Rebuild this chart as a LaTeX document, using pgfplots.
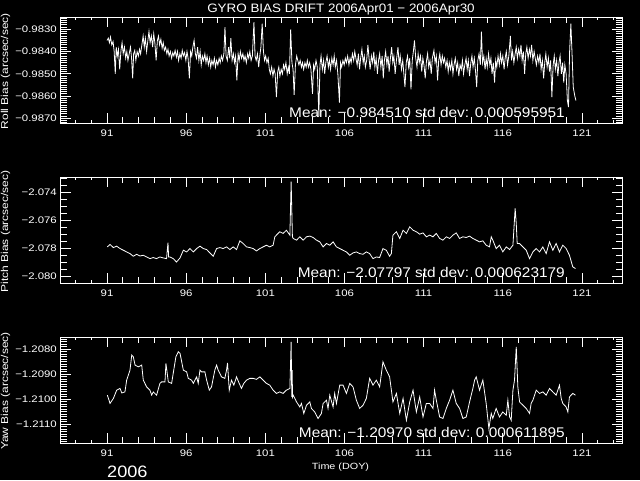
\documentclass[border=0pt]{standalone}
\usepackage{pgfplots}
\pgfplotsset{compat=1.18}
\usepackage{fontspec}
\setmainfont{Liberation Sans}
\newfontfamily\hfont{Liberation Sans}[FakeStretch=1.2]
\newfontfamily\mfont{Liberation Sans}[FakeStretch=1.1]

\pgfplotsset{idl/.style={
  scale only axis, width=561.5pt, height=106pt,
  xmin=88.06, xmax=123.53,
  axis line style={draw=white, line width=0.8pt},
  tick align=inside, tick pos=both,
  xtick={91,96,101,106,111,116,121},
  minor x tick num=4,
  major tick length=10pt, minor tick length=6pt,
  every tick/.style={draw=white, line width=0.8pt},
  tick label style={white, font=\hfont\fontsize{9.5}{10}\selectfont, inner sep=0pt},
  /pgf/number format/assume math mode=true,
  xticklabel shift=7pt,
  yticklabel shift=3.5pt,
  axis on top,
  anchor=south west,
}}

\begin{document}
\begin{tikzpicture}
\fill[black] (0pt,0pt) rectangle (640pt,480pt);

% ---------------- Roll ----------------
\begin{axis}[idl, at={(60.5pt,357pt)},
  ymin=-0.987211, ymax=-0.982447,
  ytick={-0.9870,-0.9860,-0.9850,-0.9840,-0.9830},
  yticklabels={−0.9870,−0.9860,−0.9850,−0.9840,−0.9830},
  minor y tick num=9]
\addplot[white, line width=0.8pt, mark=none] coordinates {
(91.00,-0.98350)(91.08,-0.98340)(91.15,-0.98360)(91.22,-0.98335)(91.30,-0.98370)(91.38,-0.98355)(91.45,-0.98400)(91.52,-0.98500)(91.58,-0.98380)(91.65,-0.98420)
(91.72,-0.98390)(91.80,-0.98480)(91.88,-0.98395)(91.95,-0.98360)(92.02,-0.98410)(92.10,-0.98380)(92.18,-0.98430)(92.25,-0.98400)(92.32,-0.98440)(92.40,-0.98410)
(92.48,-0.98380)(92.55,-0.98430)(92.62,-0.98520)(92.68,-0.98410)(92.75,-0.98395)(92.82,-0.98440)(92.90,-0.98400)(92.98,-0.98420)(93.05,-0.98390)(93.12,-0.98410)
(93.20,-0.98370)(93.28,-0.98330)(93.35,-0.98380)(93.42,-0.98340)(93.50,-0.98400)(93.58,-0.98350)(93.65,-0.98310)(93.72,-0.98360)(93.80,-0.98330)(93.88,-0.98380)
(93.95,-0.98320)(94.02,-0.98360)(94.10,-0.98440)(94.18,-0.98350)(94.25,-0.98330)(94.32,-0.98370)(94.40,-0.98345)(94.48,-0.98385)(94.55,-0.98360)(94.62,-0.98395)
(94.70,-0.98380)(94.78,-0.98410)(94.85,-0.98390)(94.92,-0.98420)(95.00,-0.98400)(95.08,-0.98430)(95.15,-0.98405)(95.22,-0.98420)(95.30,-0.98395)(95.38,-0.98425)
(95.45,-0.98400)(95.52,-0.98440)(95.60,-0.98410)(95.68,-0.98430)(95.75,-0.98395)(95.82,-0.98420)(95.90,-0.98405)(95.98,-0.98440)(96.05,-0.98400)(96.12,-0.98430)
(96.20,-0.98520)(96.28,-0.98400)(96.35,-0.98420)(96.42,-0.98380)(96.50,-0.98350)(96.58,-0.98410)(96.65,-0.98430)(96.72,-0.98380)(96.80,-0.98440)(96.88,-0.98400)
(96.95,-0.98460)(97.02,-0.98420)(97.10,-0.98440)(97.18,-0.98410)(97.25,-0.98450)(97.32,-0.98420)(97.40,-0.98460)(97.48,-0.98430)(97.55,-0.98470)(97.62,-0.98440)
(97.70,-0.98460)(97.78,-0.98430)(97.85,-0.98470)(97.92,-0.98440)(98.00,-0.98460)(98.08,-0.98430)(98.15,-0.98450)(98.22,-0.98420)(98.30,-0.98440)(98.38,-0.98410)
(98.45,-0.98290)(98.52,-0.98420)(98.60,-0.98440)(98.68,-0.98380)(98.75,-0.98430)(98.82,-0.98340)(98.90,-0.98440)(98.98,-0.98410)(99.05,-0.98450)(99.12,-0.98420)
(99.20,-0.98530)(99.28,-0.98410)(99.35,-0.98440)(99.42,-0.98400)(99.50,-0.98430)(99.58,-0.98410)(99.65,-0.98440)(99.72,-0.98420)(99.80,-0.98450)(99.88,-0.98410)
(99.95,-0.98430)(100.02,-0.98400)(100.10,-0.98440)(100.18,-0.98420)(100.28,-0.98268)(100.35,-0.98420)(100.42,-0.98440)(100.50,-0.98410)(100.58,-0.98470)(100.65,-0.98420)
(100.72,-0.98380)(100.80,-0.98275)(100.88,-0.98400)(100.95,-0.98440)(101.02,-0.98420)(101.10,-0.98450)(101.18,-0.98430)(101.25,-0.98480)(101.32,-0.98500)(101.40,-0.98470)
(101.48,-0.98510)(101.55,-0.98480)(101.62,-0.98500)(101.70,-0.98605)(101.78,-0.98490)(101.85,-0.98470)(101.92,-0.98510)(102.00,-0.98480)(102.08,-0.98500)(102.15,-0.98460)
(102.22,-0.98480)(102.30,-0.98450)(102.38,-0.98500)(102.45,-0.98470)(102.52,-0.98500)(102.60,-0.98300)(102.68,-0.98450)(102.75,-0.98480)(102.82,-0.98595)(102.90,-0.98460)
(102.98,-0.98420)(103.05,-0.98440)(103.12,-0.98460)(103.20,-0.98440)(103.28,-0.98470)(103.35,-0.98450)(103.42,-0.98480)(103.50,-0.98450)(103.58,-0.98470)(103.65,-0.98440)
(103.72,-0.98470)(103.80,-0.98450)(103.88,-0.98480)(103.98,-0.98590)(104.05,-0.98460)(104.12,-0.98480)(104.20,-0.98440)(104.28,-0.98470)(104.38,-0.98690)(104.45,-0.98460)
(104.52,-0.98420)(104.60,-0.98480)(104.68,-0.98440)(104.75,-0.98500)(104.82,-0.98450)(104.90,-0.98420)(104.98,-0.98470)(105.05,-0.98440)(105.12,-0.98480)(105.20,-0.98430)
(105.28,-0.98460)(105.35,-0.98420)(105.42,-0.98470)(105.50,-0.98440)(105.58,-0.98500)(105.68,-0.98630)(105.75,-0.98450)(105.82,-0.98470)(105.90,-0.98440)(105.98,-0.98460)
(106.05,-0.98430)(106.12,-0.98450)(106.20,-0.98420)(106.28,-0.98460)(106.35,-0.98430)(106.42,-0.98450)(106.50,-0.98410)(106.58,-0.98440)(106.65,-0.98400)(106.72,-0.98430)
(106.80,-0.98460)(106.88,-0.98410)(106.95,-0.98480)(107.02,-0.98430)(107.10,-0.98390)(107.18,-0.98450)(107.25,-0.98420)(107.32,-0.98470)(107.40,-0.98440)(107.48,-0.98370)
(107.55,-0.98430)(107.62,-0.98480)(107.70,-0.98420)(107.78,-0.98450)(107.85,-0.98400)(107.92,-0.98470)(108.00,-0.98430)(108.08,-0.98500)(108.15,-0.98440)(108.22,-0.98410)
(108.30,-0.98470)(108.38,-0.98420)(108.45,-0.98520)(108.52,-0.98440)(108.60,-0.98400)(108.68,-0.98460)(108.75,-0.98420)(108.82,-0.98490)(108.90,-0.98430)(108.98,-0.98380)
(109.05,-0.98450)(109.12,-0.98420)(109.20,-0.98500)(109.28,-0.98440)(109.38,-0.98380)(109.45,-0.98460)(109.52,-0.98420)(109.60,-0.98480)(109.68,-0.98440)(109.75,-0.98500)
(109.82,-0.98560)(109.90,-0.98450)(109.98,-0.98420)(110.05,-0.98470)(110.12,-0.98430)(110.20,-0.98570)(110.28,-0.98440)(110.35,-0.98400)(110.42,-0.98350)(110.50,-0.98430)
(110.58,-0.98470)(110.65,-0.98410)(110.72,-0.98450)(110.80,-0.98420)(110.88,-0.98490)(110.95,-0.98430)(111.02,-0.98460)(111.10,-0.98520)(111.18,-0.98440)(111.25,-0.98410)
(111.32,-0.98470)(111.40,-0.98440)(111.48,-0.98500)(111.55,-0.98430)(111.65,-0.98395)(111.72,-0.98450)(111.80,-0.98420)(111.88,-0.98530)(111.95,-0.98440)(112.02,-0.98410)
(112.10,-0.98460)(112.18,-0.98420)(112.25,-0.98450)(112.32,-0.98430)(112.40,-0.98470)(112.48,-0.98440)(112.55,-0.98490)(112.62,-0.98450)(112.70,-0.98480)(112.78,-0.98440)
(112.85,-0.98500)(112.92,-0.98460)(113.00,-0.98430)(113.08,-0.98480)(113.15,-0.98450)(113.22,-0.98510)(113.30,-0.98460)(113.38,-0.98480)(113.45,-0.98440)(113.52,-0.98500)
(113.60,-0.98460)(113.68,-0.98430)(113.75,-0.98480)(113.82,-0.98440)(113.90,-0.98510)(113.98,-0.98450)(114.05,-0.98420)(114.12,-0.98470)(114.20,-0.98430)(114.28,-0.98490)
(114.35,-0.98560)(114.42,-0.98440)(114.50,-0.98410)(114.58,-0.98460)(114.65,-0.98310)(114.72,-0.98450)(114.80,-0.98420)(114.88,-0.98480)(114.95,-0.98430)(115.02,-0.98470)
(115.10,-0.98410)(115.18,-0.98460)(115.25,-0.98430)(115.32,-0.98500)(115.40,-0.98450)(115.48,-0.98540)(115.55,-0.98440)(115.62,-0.98470)(115.70,-0.98420)(115.78,-0.98460)
(115.85,-0.98410)(115.92,-0.98450)(116.00,-0.98420)(116.08,-0.98480)(116.15,-0.98430)(116.22,-0.98400)(116.30,-0.98460)(116.38,-0.98420)(116.48,-0.98330)(116.55,-0.98440)
(116.62,-0.98400)(116.70,-0.98450)(116.78,-0.98410)(116.85,-0.98380)(116.92,-0.98430)(117.00,-0.98390)(117.08,-0.98420)(117.15,-0.98370)(117.22,-0.98440)(117.30,-0.98400)
(117.38,-0.98500)(117.45,-0.98410)(117.52,-0.98380)(117.60,-0.98430)(117.68,-0.98390)(117.75,-0.98420)(117.82,-0.98370)(117.90,-0.98440)(117.98,-0.98400)(118.05,-0.98430)
(118.12,-0.98460)(118.20,-0.98420)(118.28,-0.98450)(118.35,-0.98410)(118.42,-0.98480)(118.50,-0.98440)(118.58,-0.98520)(118.65,-0.98450)(118.72,-0.98410)(118.80,-0.98470)
(118.88,-0.98430)(118.95,-0.98490)(119.02,-0.98440)(119.10,-0.98605)(119.18,-0.98460)(119.25,-0.98420)(119.32,-0.98480)(119.40,-0.98440)(119.48,-0.98510)(119.55,-0.98450)
(119.62,-0.98420)(119.70,-0.98500)(119.78,-0.98450)(119.85,-0.98540)(119.92,-0.98460)(120.00,-0.98500)(120.08,-0.98620)(120.15,-0.98650)(120.22,-0.98400)(120.30,-0.98275)
(120.38,-0.98420)(120.45,-0.98560)(120.55,-0.98600)(120.62,-0.98620)
};
\end{axis}

% ---------------- Pitch ----------------
\begin{axis}[idl, at={(60.5pt,197pt)},
  ymin=-2.080502, ymax=-2.072925,
  ytick={-2.080,-2.078,-2.076,-2.074},
  yticklabels={−2.080,−2.078,−2.076,−2.074},
  minor y tick num=3]
\addplot[white, line width=0.8pt, mark=none] coordinates {
(91.02,-2.07792)(91.19,-2.07775)(91.40,-2.07797)(91.61,-2.07787)(91.82,-2.07804)(92.03,-2.07816)(92.24,-2.07828)(92.45,-2.07840)(92.66,-2.07859)(92.87,-2.07845)
(93.08,-2.07857)(93.29,-2.07852)(93.50,-2.07864)(93.71,-2.07876)(93.92,-2.07868)(94.13,-2.07876)(94.34,-2.07864)(94.55,-2.07871)(94.76,-2.07876)(94.85,-2.07761)
(94.89,-2.07864)(94.97,-2.07864)(95.18,-2.07876)(95.39,-2.07900)(95.61,-2.07871)(95.82,-2.07816)(96.03,-2.07828)(96.24,-2.07804)(96.45,-2.07828)(96.66,-2.07804)
(96.87,-2.07787)(97.08,-2.07804)(97.29,-2.07811)(97.50,-2.07835)(97.71,-2.07859)(97.92,-2.07804)(98.13,-2.07797)(98.34,-2.07804)(98.55,-2.07792)(98.76,-2.07811)
(98.97,-2.07792)(99.18,-2.07811)(99.39,-2.07749)(99.60,-2.07768)(99.81,-2.07792)(100.02,-2.07797)(100.23,-2.07804)(100.44,-2.07821)(100.65,-2.07804)(100.86,-2.07792)
(101.07,-2.07780)(101.28,-2.07792)(101.49,-2.07780)(101.60,-2.07720)(101.70,-2.07708)(101.91,-2.07684)(102.12,-2.07696)(102.33,-2.07673)(102.55,-2.07708)(102.63,-2.07326)
(102.67,-2.07529)(102.71,-2.07720)(102.76,-2.07732)(102.97,-2.07744)(103.18,-2.07720)(103.39,-2.07744)(103.60,-2.07720)(103.81,-2.07715)(104.02,-2.07725)(104.23,-2.07744)
(104.44,-2.07756)(104.65,-2.07792)(104.86,-2.07768)(105.07,-2.07780)(105.28,-2.07756)(105.49,-2.07792)(105.70,-2.07804)(105.91,-2.07816)(106.12,-2.07828)(106.33,-2.07852)
(106.54,-2.07835)(106.75,-2.07828)(106.96,-2.07840)(107.17,-2.07845)(107.38,-2.07828)(107.59,-2.07840)(107.80,-2.07876)(108.01,-2.07864)(108.22,-2.07868)(108.43,-2.07804)
(108.64,-2.07816)(108.85,-2.07859)(108.96,-2.07840)(109.06,-2.07708)(109.28,-2.07684)(109.49,-2.07732)(109.70,-2.07673)(109.91,-2.07696)(110.12,-2.07649)(110.33,-2.07673)
(110.54,-2.07684)(110.75,-2.07701)(110.96,-2.07692)(111.17,-2.07720)(111.38,-2.07708)(111.59,-2.07720)(111.80,-2.07696)(112.01,-2.07732)(112.22,-2.07744)(112.43,-2.07720)
(112.64,-2.07732)(112.85,-2.07708)(113.06,-2.07692)(113.27,-2.07732)(113.48,-2.07720)(113.69,-2.07725)(113.90,-2.07715)(114.11,-2.07732)(114.32,-2.07744)(114.53,-2.07756)
(114.74,-2.07749)(114.95,-2.07780)(115.16,-2.07792)(115.27,-2.07720)(115.37,-2.07744)(115.58,-2.07804)(115.79,-2.07780)(116.00,-2.07828)(116.22,-2.07792)(116.43,-2.07811)
(116.64,-2.07780)(116.78,-2.07517)(116.85,-2.07625)(116.91,-2.07768)(117.06,-2.07768)(117.27,-2.07792)(117.48,-2.07816)(117.69,-2.07876)(117.90,-2.07828)(118.11,-2.07804)
(118.32,-2.07828)(118.53,-2.07792)(118.74,-2.07840)(118.95,-2.07756)(119.16,-2.07816)(119.37,-2.07768)(119.58,-2.07828)(119.79,-2.07780)(120.00,-2.07804)(120.21,-2.07852)
(120.42,-2.07935)(120.59,-2.07947)
};
\end{axis}

% ---------------- Yaw ----------------
\begin{axis}[idl, at={(60.5pt,37pt)},
  ymin=-1.211748, ymax=-1.20752,
  ytick={-1.2110,-1.2100,-1.2090,-1.2080},
  yticklabels={−1.2110,−1.2100,−1.2090,−1.2080},
  minor y tick num=9]
\addplot[white, line width=0.8pt, mark=none] coordinates {
(91.02,-1.20984)(91.19,-1.21017)(91.40,-1.20997)(91.61,-1.20964)(91.82,-1.20957)(91.93,-1.20975)(92.13,-1.20971)(92.24,-1.20924)(92.45,-1.20884)(92.56,-1.20824)
(92.66,-1.20831)(92.77,-1.20864)(92.98,-1.20871)(93.19,-1.20864)(93.29,-1.20924)(93.50,-1.20951)(93.71,-1.20964)(93.82,-1.20984)(93.92,-1.20971)(94.13,-1.20984)
(94.34,-1.20937)(94.45,-1.20931)(94.66,-1.20931)(94.72,-1.20857)(94.87,-1.20931)(95.08,-1.20937)(95.18,-1.20897)(95.35,-1.20831)(95.50,-1.20811)(95.61,-1.20817)
(95.82,-1.20884)(96.03,-1.20891)(96.13,-1.20917)(96.34,-1.20924)(96.45,-1.20937)(96.66,-1.20911)(96.76,-1.20937)(96.87,-1.20884)(96.97,-1.20891)(97.18,-1.20891)
(97.29,-1.20924)(97.46,-1.20964)(97.60,-1.20951)(97.81,-1.20884)(97.92,-1.20864)(98.02,-1.20884)(98.23,-1.20911)(98.44,-1.20917)(98.55,-1.20884)(98.61,-1.20855)
(98.72,-1.20964)(98.86,-1.20924)(99.01,-1.20944)(99.18,-1.20911)(99.35,-1.20937)(99.49,-1.20957)(99.64,-1.20937)(99.81,-1.20924)(100.02,-1.20917)(100.23,-1.20917)
(100.44,-1.20921)(100.65,-1.20911)(100.86,-1.20924)(101.07,-1.20937)(101.28,-1.20944)(101.49,-1.20964)(101.70,-1.20977)(101.91,-1.20971)(102.12,-1.20977)(102.33,-1.20964)
(102.55,-1.20957)(102.63,-1.20771)(102.67,-1.20991)(102.69,-1.20884)(102.72,-1.20991)(102.76,-1.20984)(102.97,-1.21011)(103.18,-1.21031)(103.28,-1.21017)(103.43,-1.21057)
(103.60,-1.21024)(103.81,-1.21011)(103.91,-1.21037)(104.12,-1.21051)(104.33,-1.21077)(104.54,-1.21057)(104.65,-1.21017)(104.86,-1.21004)(104.96,-1.21037)(105.07,-1.20984)
(105.28,-1.21031)(105.38,-1.20977)(105.49,-1.21017)(105.70,-1.20944)(105.91,-1.20944)(106.12,-1.20977)(106.33,-1.20937)(106.54,-1.20951)(106.75,-1.21004)(106.96,-1.21037)
(107.17,-1.21024)(107.38,-1.20997)(107.59,-1.20917)(107.80,-1.20944)(108.01,-1.20924)(108.22,-1.20951)(108.43,-1.20851)(108.64,-1.20884)(108.85,-1.20911)(109.06,-1.21011)
(109.28,-1.20977)(109.49,-1.21057)(109.70,-1.20997)(109.91,-1.21084)(110.12,-1.21011)(110.33,-1.20964)(110.54,-1.21051)(110.75,-1.20991)(110.96,-1.21071)(111.17,-1.21017)
(111.38,-1.21017)(111.59,-1.21037)(111.69,-1.20964)(111.80,-1.21004)(112.01,-1.21071)(112.22,-1.21077)(112.43,-1.21037)(112.64,-1.21004)(112.85,-1.20964)(113.06,-1.21017)
(113.27,-1.21037)(113.48,-1.21077)(113.69,-1.21071)(113.90,-1.21011)(114.11,-1.20957)(114.22,-1.20924)(114.32,-1.20911)(114.53,-1.20964)(114.74,-1.20924)(114.95,-1.21017)
(115.12,-1.21117)(115.27,-1.21057)(115.37,-1.21077)(115.58,-1.21037)(115.79,-1.21071)(116.00,-1.21051)(116.22,-1.21064)(116.32,-1.21004)(116.43,-1.21071)(116.53,-1.21084)
(116.64,-1.20964)(116.74,-1.20924)(116.85,-1.20791)(116.95,-1.20951)(117.06,-1.21011)(117.27,-1.21024)(117.48,-1.21037)(117.69,-1.21057)(117.79,-1.21017)(117.90,-1.21004)
(118.11,-1.20964)(118.32,-1.20977)(118.53,-1.20971)(118.74,-1.20984)(118.95,-1.20957)(119.16,-1.20971)(119.37,-1.20984)(119.58,-1.20944)(119.69,-1.20997)(119.79,-1.21017)
(120.00,-1.21031)(120.11,-1.21051)(120.21,-1.20991)(120.42,-1.20977)(120.59,-1.20984)
};
\end{axis}

% ---------------- IDL-style tick combs (axis frame decoration) ----------------
\begin{scope}[x=1pt, y=1pt, white, line width=0.8pt]
  % roll: minor every 0.0001, major every 0.001
  \foreach \i in {0,...,47}{
    \pgfmathsetmacro\len{(mod(\i,10)==2) ? 10 : 6}
    \draw (60.5,{357.245+2.225*\i}) -- ++(\len,0);
    \draw (622,{357.245+2.225*\i}) -- ++(-\len,0);
  }
  % pitch: minor every 0.0005, major every 0.002
  \foreach \i in {0,...,15}{
    \pgfmathsetmacro\len{(mod(\i,4)==1) ? 10 : 6}
    \draw (60.5,{197.03+6.995*\i}) -- ++(\len,0);
    \draw (622,{197.03+6.995*\i}) -- ++(-\len,0);
  }
  % yaw: minor every 0.0001, major every 0.001
  \foreach \i in {0,...,41}{
    \pgfmathsetmacro\len{(mod(\i,10)==7) ? 10 : 6}
    \draw (60.5,{38.203+2.5071*\i}) -- ++(\len,0);
    \draw (622,{38.203+2.5071*\i}) -- ++(-\len,0);
  }
  % x: one tick per day, top and bottom of each panel
  \foreach \j in {0,...,34}{
    \foreach \yb/\yt in {357/463, 197/303, 37/143}{
      \draw ({75.38+15.83*\j},\yb) -- ++(0,3);
      \draw ({75.38+15.83*\j},\yt) -- ++(0,-3);
    }
  }
\end{scope}

% ---------------- texts ----------------
\node[white, anchor=base, inner sep=0pt, font=\mfont\fontsize{12.2}{13}\selectfont] at (341pt,467.3pt) {GYRO BIAS DRIFT 2006Apr01 − 2006Apr30};
\node[white, anchor=east, inner sep=0pt, font=\mfont\fontsize{14}{15}\selectfont] at (565pt,367.3pt) {Mean: −0.984510 std dev: 0.000595951};
\node[white, anchor=east, inner sep=0pt, font=\mfont\fontsize{14}{15}\selectfont] at (565pt,207.3pt) {Mean: −2.07797 std dev: 0.000623179};
\node[white, anchor=east, inner sep=0pt, font=\mfont\fontsize{14}{15}\selectfont] at (565pt,47.3pt) {Mean: −1.20970 std dev: 0.000611895};
\node[white, rotate=90, inner sep=0pt, font=\hfont\fontsize{10}{11}\selectfont] at (5.5pt,409pt) {Roll Bias (arcsec/sec)};
\node[white, rotate=90, inner sep=0pt, font=\hfont\fontsize{10}{11}\selectfont] at (5.5pt,248.5pt) {Pitch Bias (arcsec/sec)};
\node[white, rotate=90, inner sep=0pt, font=\hfont\fontsize{10}{11}\selectfont] at (5.5pt,89pt) {Yaw Bias (arcsec/sec)};
\node[white, anchor=base, inner sep=0pt, font=\hfont\fontsize{9}{10}\selectfont] at (340.5pt,11pt) {Time (DOY)};
\node[white, anchor=base west, inner sep=0pt, font=\mfont\fontsize{16.5}{18}\selectfont] at (107pt,2.5pt) {2006};

\pgfresetboundingbox
\path[use as bounding box] (0pt,0pt) rectangle (640pt,480pt);
\end{tikzpicture}
\end{document}
